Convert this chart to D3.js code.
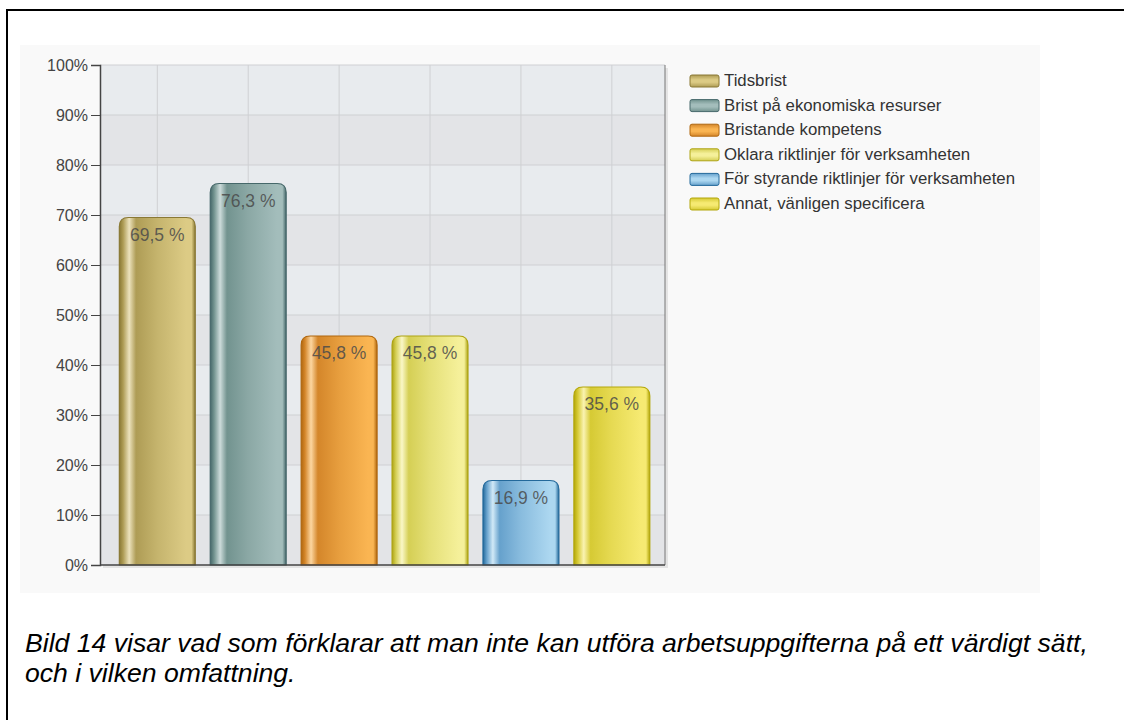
<!DOCTYPE html>
<html>
<head>
<meta charset="utf-8">
<script src="https://cdn.jsdelivr.net/npm/d3@7"></script>
<style>
  body { margin: 0; background: #fff; }
  svg { display: block; font-family: "Liberation Sans", Arial, sans-serif; }
</style>
</head>
<body>
<svg id="chart" width="1124" height="720"></svg>
<script>
const categories = [
  'Tidsbrist',
  'Brist på ekonomiska resurser',
  'Bristande kompetens',
  'Oklara riktlinjer för verksamheten',
  'För styrande riktlinjer för verksamheten',
  'Annat, vänligen specificera'
];
const values = [69.5, 76.3, 45.8, 45.8, 16.9, 35.6];
const yTicks = [0, 10, 20, 30, 40, 50, 60, 70, 80, 90, 100];
// dark edge, mid, light
const palettes = [
  ['#8a7935', '#ae9c55', '#dccb85'],
  ['#46686a', '#72938f', '#a3bdbb'],
  ['#b0670f', '#d4862a', '#fab552'],
  ['#aea414', '#d5cf55', '#f5f09a'],
  ['#23699b', '#66a1cc', '#acd7f0'],
  ['#b3a70a', '#d6ca34', '#f6ea72']
];
const caption = [
  'Bild 14 visar vad som förklarar att man inte kan utföra arbetsuppgifterna på ett värdigt sätt,',
  'och i vilken omfattning.'
];

const svg = d3.select('#chart');
const defs = svg.append('defs');

// page frame
svg.append('rect')
  .attr('x', 7).attr('y', 10)
  .attr('width', 1140).attr('height', 740)
  .attr('fill', 'none').attr('stroke', '#000').attr('stroke-width', 2);

// chart background
svg.append('rect')
  .attr('x', 20).attr('y', 45)
  .attr('width', 1020).attr('height', 548)
  .attr('fill', '#f9f9f9');

const plot = { left: 100, right: 665, top: 65, bottom: 565 };

const x = d3.scaleBand()
  .domain(categories)
  .range([plot.left, plot.right])
  .paddingInner(0.165)
  .paddingOuter(0.19)
  .align(0.56);

const y = d3.scaleLinear()
  .domain([0, 100])
  .range([plot.bottom, plot.top]);

// shadow under plot
svg.append('rect')
  .attr('x', plot.left + 3).attr('y', plot.top + 3)
  .attr('width', plot.right - plot.left).attr('height', plot.bottom - plot.top)
  .attr('fill', '#e4e4e4');

// alternating stripes
d3.range(10).forEach(i => {
  svg.append('rect')
    .attr('x', plot.left)
    .attr('y', y(yTicks[i + 1]))
    .attr('width', plot.right - plot.left)
    .attr('height', y(yTicks[i]) - y(yTicks[i + 1]))
    .attr('fill', i % 2 === 1 ? '#e8ebee' : '#e3e4e7');
});

// grid lines
svg.append('g').selectAll('line')
  .data(yTicks.slice(1))
  .join('line')
  .attr('x1', plot.left).attr('x2', plot.right)
  .attr('y1', d => y(d)).attr('y2', d => y(d))
  .attr('stroke', '#cfd0d3');

svg.append('g').selectAll('line')
  .data(categories)
  .join('line')
  .attr('x1', d => x(d) + x.bandwidth() / 2)
  .attr('x2', d => x(d) + x.bandwidth() / 2)
  .attr('y1', plot.top).attr('y2', plot.bottom)
  .attr('stroke', '#cfd0d3');

// right edge
svg.append('line')
  .attr('x1', plot.right).attr('x2', plot.right)
  .attr('y1', plot.top).attr('y2', plot.bottom)
  .attr('stroke', '#777');

// bar gradients
palettes.forEach((p, i) => {
  const g = defs.append('linearGradient')
    .attr('id', 'bar' + i)
    .attr('x1', 0).attr('x2', 1).attr('y1', 0).attr('y2', 0);
  const light = d3.interpolateRgb(p[2], '#fff')(0.45);
  [[0, p[0]], [0.05, p[1]], [0.13, light], [0.22, p[1]], [0.5, d3.interpolateRgb(p[1], p[2])(0.5)],
   [0.88, p[2]], [0.95, p[2]], [1, p[0]]]
    .forEach(([o, c]) => g.append('stop').attr('offset', o).attr('stop-color', c));

  const lg = defs.append('linearGradient')
    .attr('id', 'leg' + i)
    .attr('x1', 0).attr('x2', 0).attr('y1', 0).attr('y2', 1);
  [[0, p[1]], [0.4, p[2]], [0.6, p[2]], [1, p[1]]]
    .forEach(([o, c]) => lg.append('stop').attr('offset', o).attr('stop-color', c));
});

function topRounded(x0, y0, w, h, r) {
  return `M${x0},${y0 + h}V${y0 + r}Q${x0},${y0} ${x0 + r},${y0}` +
    `H${x0 + w - r}Q${x0 + w},${y0} ${x0 + w},${y0 + r}V${y0 + h}Z`;
}

const bars = svg.append('g').selectAll('g')
  .data(values)
  .join('g');

bars.append('path')
  .attr('d', (d, i) => topRounded(x(categories[i]), y(d), x.bandwidth(), plot.bottom - y(d), 9))
  .attr('fill', (d, i) => `url(#bar${i})`)
  .attr('stroke', (d, i) => palettes[i][0])
  .attr('stroke-width', 1.2);

bars.append('text')
  .attr('x', (d, i) => x(categories[i]) + x.bandwidth() / 2)
  .attr('y', d => y(d) + 23)
  .attr('text-anchor', 'middle')
  .attr('font-size', 17.5)
  .attr('fill', '#4a4a4a')
  .attr('fill-opacity', 0.85)
  .text(d => d3.format('.1f')(d).replace('.', ',') + ' %');

// axes
svg.append('g')
  .attr('transform', `translate(${plot.left},0)`)
  .call(d3.axisLeft(y).tickValues(yTicks).tickSize(9).tickPadding(3).tickFormat(d => d + '%'))
  .call(g => g.select('.domain').attr('stroke', '#444').attr('stroke-width', 1.5))
  .call(g => g.selectAll('.tick line').attr('stroke', '#444'))
  .call(g => g.selectAll('text').attr('font-size', 16).attr('fill', '#444')
    .attr('font-family', '"Liberation Sans", Arial, sans-serif'));

svg.append('line')
  .attr('x1', plot.left).attr('x2', plot.right)
  .attr('y1', plot.bottom).attr('y2', plot.bottom)
  .attr('stroke', '#444').attr('stroke-width', 1.5);

// legend
const legend = svg.append('g').attr('transform', 'translate(690,75)');
const rows = legend.selectAll('g')
  .data(categories)
  .join('g')
  .attr('transform', (d, i) => `translate(0,${i * 24.6})`);

rows.append('rect')
  .attr('width', 29).attr('height', 12).attr('rx', 2)
  .attr('fill', (d, i) => `url(#leg${i})`)
  .attr('stroke', (d, i) => palettes[i][0]);

rows.append('text')
  .attr('x', 34).attr('y', 11)
  .attr('font-size', 16.8)
  .attr('fill', '#333')
  .text(d => d);

// caption
svg.append('g').selectAll('text')
  .data(caption)
  .join('text')
  .attr('x', 25)
  .attr('y', (d, i) => 652 + i * 30)
  .attr('font-size', 26.6)
  .attr('font-style', 'italic')
  .attr('fill', '#000')
  .text(d => d);
</script>
</body>
</html>
